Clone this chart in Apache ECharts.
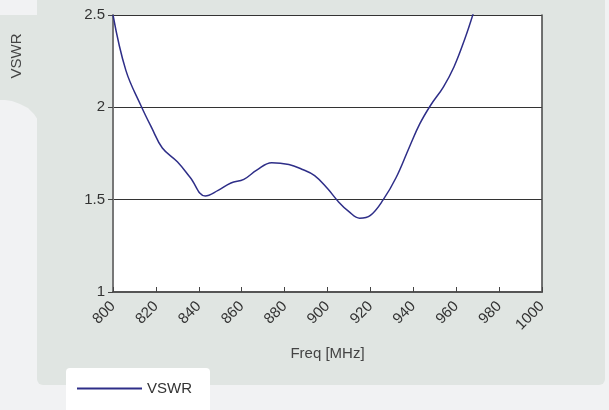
<!DOCTYPE html>
<html>
<head>
<meta charset="utf-8">
<script src="https://cdn.jsdelivr.net/npm/echarts@6/dist/echarts.min.js"></script>
<style>
html,body{margin:0;padding:0;background:#f1f2f3;}
#c{width:609px;height:410px;}
</style>
</head>
<body>
<div id="c"></div>
<script>
var freq = [800, 806, 813, 818, 823, 830, 836, 843, 849, 855, 861, 867, 874, 882, 888, 894, 900, 905, 910, 915, 920, 926, 932, 938, 943, 948, 954, 959, 964, 968];
var vswr = [2.50, 2.20, 2.01, 1.89, 1.78, 1.705, 1.62, 1.52, 1.55, 1.59, 1.61, 1.66, 1.70, 1.69, 1.665, 1.63, 1.56, 1.49, 1.435, 1.40, 1.415, 1.50, 1.62, 1.78, 1.91, 2.01, 2.11, 2.22, 2.37, 2.51];
var xTicks = [800, 820, 840, 860, 880, 900, 920, 940, 960, 980, 1000];
var yTicks = [1, 1.5, 2, 2.5];
var seriesName = 'VSWR';
var xName = 'Freq [MHz]';
var yTitle = 'VSWR';

var font = 'Liberation Sans, Arial, sans-serif';
var chart = echarts.init(document.getElementById('c'), null, {renderer: 'canvas'});
chart.setOption({
  backgroundColor: '#f1f2f3',
  animation: false,
  graphic: [
    {type: 'rect', z: -10, shape: {x: 37, y: -10, width: 568, height: 395, r: [0, 0, 6, 6]}, style: {fill: '#e0e5e2'}},
    {type: 'polygon', z: -10, shape: {points: [[0, 15], [38, 15], [38, 120], [34, 114], [28, 108], [20, 104], [12, 101], [5, 100], [0, 100]], smooth: 0}, style: {fill: '#e0e5e2'}},
    {type: 'rect', z: -5, shape: {x: 66, y: 368, width: 144, height: 50, r: [4, 4, 0, 0]}, style: {fill: '#ffffff'}},
    {type: 'text', z: 10, x: 17, y: 56, rotation: Math.PI / 2,
     style: {text: yTitle, fill: '#444', font: '15px ' + font, align: 'center', verticalAlign: 'middle'}}
  ],
  grid: {left: 113, top: 15, right: 67, bottom: 118, show: true, backgroundColor: '#ffffff', borderWidth: 0},
  legend: {
    left: 77, top: 381, padding: 0, itemWidth: 65, itemHeight: 2, icon: 'rect', itemGap: 6,
    textStyle: {color: '#333', fontSize: 15, fontFamily: font},
    data: [seriesName]
  },
  xAxis: {
    type: 'value', min: xTicks[0], max: xTicks[xTicks.length - 1], interval: 20,
    name: xName, nameLocation: 'middle', nameGap: 54,
    nameTextStyle: {color: '#444', fontSize: 15, fontFamily: font},
    axisLine: {onZero: false, lineStyle: {color: '#555', width: 2}},
    axisTick: {inside: true, length: 5, lineStyle: {color: '#444', width: 1}},
    axisLabel: {rotate: 45, margin: 12, color: '#333', fontSize: 15, fontFamily: font,
      formatter: function (v) { return String(v); }},
    splitLine: {show: false}
  },
  yAxis: [{
    type: 'value', min: yTicks[0], max: yTicks[yTicks.length - 1], interval: 0.5,
    axisLine: {show: true, lineStyle: {color: '#777', width: 2}},
    axisTick: {show: true, length: 5, lineStyle: {color: '#444'}},
    axisLabel: {margin: 8, color: '#333', fontSize: 15, fontFamily: font},
    splitLine: {show: true, lineStyle: {color: '#333', width: 1}}
  }, {
    type: 'value', position: 'right', min: yTicks[0], max: yTicks[yTicks.length - 1], interval: 0.5,
    axisLine: {show: true, lineStyle: {color: '#444', width: 1.5}},
    axisTick: {show: false}, axisLabel: {show: false}, splitLine: {show: false}
  }],
  series: [{
    name: seriesName, type: 'line', smooth: 0.4, showSymbol: false, symbol: 'none',
    clip: true,
    lineStyle: {color: '#2e2e88', width: 1.5},
    itemStyle: {color: '#2e2e88'},
    data: freq.map(function (f, i) { return [f, vswr[i]]; })
  }]
});
</script>
</body>
</html>
